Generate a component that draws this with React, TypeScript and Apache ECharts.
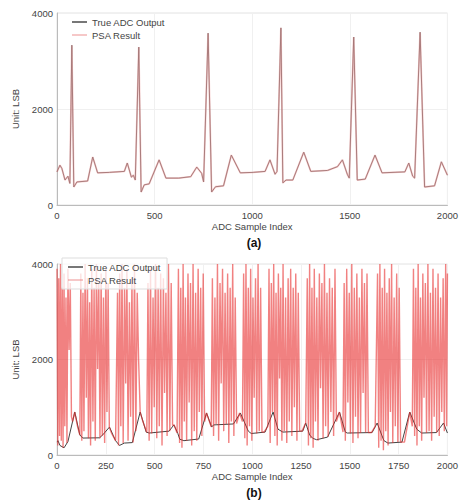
import React, { useEffect, useRef } from "react";
import * as echarts from "echarts";

// Panel (a): true ADC output, [sample index, LSB] vertices of the ECG trace
const trueA: [number, number][] = [
  [0, 690], [15, 830], [25, 760], [41, 520], [56, 600], [66, 450], [76, 3330], [86, 375],
  [102, 480], [157, 500], [183, 1000], [208, 670], [269, 680], [345, 700], [360, 875],
  [381, 580], [391, 620], [401, 520], [419, 3290], [431, 270], [447, 420], [472, 440],
  [523, 940], [558, 560], [624, 560], [685, 590], [716, 790], [741, 660], [751, 480],
  [774, 3580], [792, 270], [812, 380], [853, 400], [893, 1040], [939, 670], [1005, 680],
  [1066, 700], [1091, 940], [1117, 640], [1127, 700], [1147, 3690], [1157, 460],
  [1173, 520], [1208, 520], [1264, 1100], [1300, 700], [1386, 720], [1437, 800],
  [1462, 940], [1487, 640], [1497, 560], [1520, 3500], [1538, 520], [1579, 540],
  [1629, 1040], [1665, 670], [1782, 690], [1802, 875], [1822, 600], [1832, 560],
  [1860, 3600], [1883, 375], [1934, 400], [1969, 900], [2000, 620],
];
// Panel (a): PSA result tracks the true output
const psaA: [number, number][] = trueA.map((p) => [p[0], p[1]]);

// Panel (b): true ADC output
const trueB: [number, number][] = [
  [0, 270], [5, 300], [15, 200], [36, 150], [56, 280], [91, 900], [117, 420],
  [132, 355], [218, 360], [234, 420], [269, 585], [289, 400], [300, 300],
  [320, 200], [345, 250], [386, 260], [426, 900], [457, 480], [472, 460], [574, 500],
  [599, 630], [619, 450], [629, 330], [650, 300], [726, 335], [766, 880],
  [792, 585], [802, 630], [904, 650], [939, 880], [964, 650], [980, 500],
  [995, 450], [1066, 480], [1107, 900], [1132, 540], [1157, 480], [1259, 500], [1274, 670],
  [1294, 420], [1310, 350], [1330, 320], [1386, 375], [1447, 900],
  [1477, 480], [1487, 460], [1614, 470], [1640, 670], [1665, 400], [1675, 300],
  [1695, 250], [1767, 270], [1807, 900], [1843, 540], [1868, 460],
  [1944, 470], [1980, 670], [2000, 460],
];

// Panel (b): PSA result, jumping between rails
const psaB: [number, number][] = [
  [0, 3900], [4, 200], [9, 3700], [13, 400], [18, 4000], [22, 300], [27, 3500], [31, 150],
  [36, 3800], [40, 600], [46, 3300], [51, 250], [56, 3900], [62, 2200], [68, 3600], [74, 800],
  [80, 700], [91, 900], [105, 600], [117, 420],
  [122, 3800], [127, 300], [133, 3400], [138, 500], [144, 4000], [150, 1200], [156, 3700],
  [161, 350], [167, 3200], [172, 200], [178, 3900], [184, 700], [190, 3500], [196, 300],
  [202, 4000], [208, 1800], [214, 3600], [220, 350], [226, 3800], [232, 400], [238, 3300],
  [244, 250], [250, 3900], [256, 900], [262, 3600], [268, 580],
  [280, 450], [300, 300],
  [310, 3400], [315, 200], [321, 3800], [327, 600], [333, 4000], [339, 250], [346, 3500],
  [352, 1500], [358, 3900], [364, 300], [371, 3200], [377, 800], [384, 3700], [390, 260],
  [397, 4000], [404, 500], [411, 3400], [418, 2000], [426, 900],
  [440, 700], [460, 470],
  [466, 3600], [472, 300], [479, 3900], [485, 450], [492, 3300], [498, 1000], [505, 4000],
  [511, 350], [518, 3500], [524, 600], [531, 3800], [538, 200], [545, 3700], [551, 1300],
  [558, 3400], [564, 400], [571, 4000], [578, 500], [585, 3600], [592, 620],
  [600, 630], [615, 460],
  [622, 3900], [628, 250], [634, 3500], [640, 150], [646, 4000], [652, 700], [658, 3300],
  [664, 300], [671, 3800], [677, 1100], [684, 3600], [690, 200], [697, 4000], [703, 500],
  [710, 3400], [716, 300], [723, 3900], [729, 900], [736, 3500], [742, 400], [749, 3800],
  [756, 700],
  [766, 880], [790, 590],
  [796, 3700], [802, 400], [809, 3300], [815, 650], [822, 4000], [828, 300], [835, 3600],
  [841, 1500], [848, 3900], [854, 500], [861, 3400], [867, 650], [874, 3800], [880, 250],
  [887, 3500], [893, 700], [900, 4000], [906, 400], [913, 3300], [920, 660],
  [935, 880], [950, 700],
  [956, 3800], [962, 350], [968, 4000], [974, 200], [980, 3500], [986, 600], [992, 3900],
  [998, 300], [1004, 3300], [1010, 1200], [1017, 3700], [1023, 450], [1030, 4000],
  [1036, 500], [1043, 3500], [1050, 480],
  [1060, 480], [1080, 600],
  [1086, 3900], [1092, 250], [1098, 3600], [1104, 900], [1110, 4000], [1116, 400],
  [1122, 3400], [1128, 200], [1134, 3800], [1140, 1600], [1146, 3500], [1152, 300],
  [1158, 4000], [1164, 500], [1171, 3300], [1177, 250], [1184, 3700], [1190, 700],
  [1197, 3900], [1203, 400], [1210, 3500], [1216, 1000], [1223, 3800], [1229, 300],
  [1236, 3400], [1243, 500],
  [1255, 500], [1274, 670],
  [1282, 3700], [1288, 200], [1294, 4000], [1300, 350], [1306, 3500], [1312, 150],
  [1318, 3900], [1324, 700], [1331, 3300], [1337, 300], [1344, 3800], [1350, 1400],
  [1357, 3600], [1363, 350], [1370, 4000], [1376, 600], [1383, 3400], [1389, 380],
  [1396, 3700], [1403, 900], [1410, 3500], [1417, 400], [1424, 3900], [1431, 700],
  [1447, 900], [1465, 480],
  [1471, 3600], [1477, 300], [1484, 3900], [1490, 1100], [1497, 3400], [1503, 450],
  [1510, 4000], [1516, 250], [1523, 3500], [1529, 800], [1536, 3800], [1542, 350],
  [1549, 3300], [1555, 460], [1562, 3900], [1568, 1300], [1575, 3600], [1581, 470],
  [1588, 3800], [1595, 470],
  [1610, 470], [1630, 600],
  [1642, 3800], [1648, 150], [1654, 4000], [1660, 300], [1666, 3500], [1672, 100],
  [1678, 3900], [1684, 500], [1690, 3400], [1696, 200], [1702, 3700], [1708, 900],
  [1714, 4000], [1720, 250], [1727, 3300], [1733, 600], [1740, 3800], [1746, 270],
  [1753, 3500], [1760, 270],
  [1780, 270], [1807, 900], [1820, 600],
  [1826, 3900], [1832, 400], [1838, 3500], [1844, 200], [1850, 4000], [1856, 600],
  [1862, 3300], [1868, 300], [1874, 3800], [1880, 1200], [1887, 3600], [1893, 460],
  [1900, 4000], [1906, 500], [1913, 3400], [1919, 300], [1926, 3900], [1932, 800],
  [1939, 3500], [1945, 470], [1952, 3800], [1958, 400], [1965, 3300], [1971, 900],
  [1978, 3700], [1984, 500], [1991, 4000], [1996, 600], [2000, 3800],
];

const yTicks = [0, 2000, 4000];
const panelLabels = ["(a)", "(b)"];
const seriesNames = ["True ADC Output", "PSA Result"];
const xLabel = "ADC Sample Index";
const yLabel = "Unit: LSB";

const FONT = "Liberation Sans, Arial, sans-serif";
const TRUE_COLOR_A = "#777777";
const TRUE_COLOR_B = "#444444";
const PSA_COLOR_A = "rgba(232, 110, 110, 0.38)";
const PSA_COLOR_B = "rgba(232, 45, 45, 0.6)";

export default function App() {
  const ref = useRef<HTMLDivElement>(null);

  useEffect(() => {
    if (!ref.current) return;
    const chart = echarts.init(ref.current, null, { renderer: "svg" });

    const grids = [
      { left: 57, right: 10, top: 13, height: 192 },
      { left: 57, right: 10, top: 264, height: 191 },
    ];
    const xIntervals = [500, 250];

    const xAxes = grids.map((_, i) => ({
      type: "value",
      gridIndex: i,
      min: 0,
      max: 2000,
      interval: xIntervals[i],
      name: xLabel,
      nameLocation: "middle",
      nameGap: 16,
      nameTextStyle: { fontFamily: FONT, fontSize: 9.5, color: "#444" },
      axisLine: { show: true, lineStyle: { color: "#bbb", width: 1 } },
      axisTick: { show: false },
      axisLabel: {
        fontFamily: FONT,
        fontSize: 9.5,
        color: "#444",
        margin: 5,
        formatter: (v: number) => String(v),
      },
      splitLine: { show: true, lineStyle: { color: "#f0f0f0", width: 1 } },
    }));
    const yAxes = grids.map((_, i) => ({
      type: "value",
      gridIndex: i,
      min: 0,
      max: 4000,
      interval: 2000,
      name: yLabel,
      nameLocation: "middle",
      nameGap: 36,
      nameTextStyle: { fontFamily: FONT, fontSize: 9.5, color: "#444" },
      axisLine: { show: true, lineStyle: { color: "#bbb", width: 1 } },
      axisTick: { show: false },
      axisLabel: {
        fontFamily: FONT,
        fontSize: 9.5,
        color: "#444",
        margin: 4,
        formatter: (v: number) => (yTicks.includes(v) ? String(v) : ""),
      },
      splitLine: { show: true, lineStyle: { color: "#f0f0f0", width: 1 } },
    }));

    const lineSeries = (
      name: string,
      data: [number, number][],
      idx: number,
      color: string,
      width: number,
      z: number
    ) => ({
      type: "line",
      name,
      xAxisIndex: idx,
      yAxisIndex: idx,
      data,
      showSymbol: false,
      symbol: "none",
      lineStyle: { color, width },
      itemStyle: { color },
      z,
      silent: true,
    });

    const legendBase = {
      orient: "vertical",
      itemWidth: 15,
      itemHeight: 2,
      itemGap: 3,
      icon: "rect",
      textStyle: { fontFamily: FONT, fontSize: 9.5, color: "#444" },
      data: seriesNames,
      selectedMode: false,
    };

    chart.setOption({
      animation: false,
      backgroundColor: "#fff",
      grid: grids.map((g) => ({
        ...g,
        show: true,
        borderColor: "#e2e2e2",
        borderWidth: 1,
        backgroundColor: "transparent",
      })),
      xAxis: xAxes,
      yAxis: yAxes,
      legend: [
        { ...legendBase, left: 66, top: 13, padding: [4, 6] },
        {
          ...legendBase,
          left: 62,
          top: 258,
          padding: [4, 6],
          backgroundColor: "rgba(255,255,255,0.75)",
          borderColor: "#ddd",
          borderWidth: 1,
        },
      ],
      series: [
        lineSeries(seriesNames[0], trueA, 0, TRUE_COLOR_A, 0.9, 2),
        lineSeries(seriesNames[1], psaA, 0, PSA_COLOR_A, 1.8, 3),
        lineSeries(seriesNames[0], trueB, 1, TRUE_COLOR_B, 1, 2),
        lineSeries(seriesNames[1], psaB, 1, PSA_COLOR_B, 1.4, 3),
      ],
      graphic: [
        {
          type: "text",
          x: 254,
          y: 243,
          style: {
            text: panelLabels[0],
            font: `bold 12px ${FONT}`,
            fill: "#111",
            align: "center",
            verticalAlign: "middle",
          },
        },
        {
          type: "text",
          x: 254,
          y: 493,
          style: {
            text: panelLabels[1],
            font: `bold 12px ${FONT}`,
            fill: "#111",
            align: "center",
            verticalAlign: "middle",
          },
        },
      ],
    });

    return () => chart.dispose();
  }, []);

  return (
    <div
      ref={ref}
      style={{ position: "fixed", left: 0, top: 0, width: 461, height: 503 }}
    />
  );
}
